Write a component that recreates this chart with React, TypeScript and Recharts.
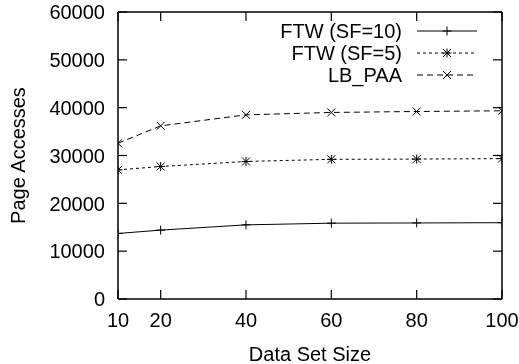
import React from "react";
import { LineChart, Line, XAxis, YAxis, Legend } from "recharts";

const xValues = [10, 20, 40, 60, 80, 100];
const ftw10 = [13700, 14400, 15500, 15850, 15900, 15950];
const ftw5 = [27000, 27700, 28750, 29200, 29250, 29350];
const lbPaa = [32550, 36200, 38500, 39000, 39200, 39350];
const xTicks = [10, 20, 40, 60, 80, 100];
const yTicks = [0, 10000, 20000, 30000, 40000, 50000, 60000];
const seriesNames = ["FTW (SF=10)", "FTW (SF=5)", "LB_PAA"];

const data = xValues.map((x, i) => ({ x, a: ftw10[i], b: ftw5[i], c: lbPaa[i] }));

const FONT = "'Liberation Sans', Arial, Helvetica, sans-serif";
const FS = 20;

const Plus = ({ cx, cy }: any) => (
  <g>
    <line x1={cx - 4.5} y1={cy} x2={cx + 4.5} y2={cy} stroke="#000" strokeWidth={1} />
    <line x1={cx} y1={cy - 4.5} x2={cx} y2={cy + 4.5} stroke="#000" strokeWidth={1} />
  </g>
);
const Cross = ({ cx, cy }: any) => (
  <g>
    <line x1={cx - 4} y1={cy - 4} x2={cx + 4} y2={cy + 4} stroke="#000" strokeWidth={1} />
    <line x1={cx - 4} y1={cy + 4} x2={cx + 4} y2={cy - 4} stroke="#000" strokeWidth={1} />
  </g>
);
const Star = ({ cx, cy }: any) => (
  <g>
    <Plus cx={cx} cy={cy} />
    <Cross cx={cx} cy={cy} />
  </g>
);

const markers = [Plus, Star, Cross];
const dashes = [undefined, "3 3", "6 4"];

const BottomTick = ({ x, y, payload }: any) => (
  <g>
    <line x1={x} y1={y} x2={x} y2={y - 9} stroke="#000" strokeWidth={1.2} />
    <text x={x} y={y + 28} textAnchor="middle" fontFamily={FONT} fontSize={FS} fill="#000">
      {payload.value}
    </text>
  </g>
);
const TopTick = ({ x, y }: any) => (
  <line x1={x} y1={y} x2={x} y2={y + 9} stroke="#000" strokeWidth={1.2} />
);
const LeftTick = ({ x, y, payload }: any) => (
  <g>
    <line x1={x} y1={y} x2={x + 9} y2={y} stroke="#000" strokeWidth={1.2} />
    <text x={x - 13} y={y} dy="0.36em" textAnchor="end" fontFamily={FONT} fontSize={FS} fill="#000">
      {payload.value}
    </text>
  </g>
);
const RightTick = ({ x, y }: any) => (
  <line x1={x} y1={y} x2={x - 9} y2={y} stroke="#000" strokeWidth={1.2} />
);

const XLabel = ({ viewBox }: any) => (
  <text
    x={viewBox.x + viewBox.width / 2}
    y={viewBox.y + 62}
    textAnchor="middle"
    fontFamily={FONT}
    fontSize={FS}
    fill="#000"
  >
    Data Set Size
  </text>
);
const YLabel = ({ viewBox }: any) => {
  const cx = 25;
  const cy = viewBox.y + viewBox.height / 2;
  return (
    <text
      x={cx}
      y={cy}
      transform={`rotate(-90 ${cx} ${cy})`}
      textAnchor="middle"
      fontFamily={FONT}
      fontSize={FS}
      fill="#000"
    >
      Page Accesses
    </text>
  );
};

const LegendContent = () => {
  const rows = [31, 53, 75];
  return (
    <svg width={519} height={100} style={{ display: "block" }}>
      {seriesNames.map((name, i) => {
        const M = markers[i];
        return (
          <g key={name}>
            <text
              x={402}
              y={rows[i]}
              dy="0.36em"
              textAnchor="end"
              fontFamily={FONT}
              fontSize={FS}
              fill="#000"
            >
              {name}
            </text>
            <line
              x1={417}
              y1={rows[i]}
              x2={477}
              y2={rows[i]}
              stroke="#000"
              strokeWidth={1}
              strokeDasharray={dashes[i]}
            />
            <M cx={447} cy={rows[i]} />
          </g>
        );
      })}
    </svg>
  );
};

export default function App() {
  const keys = ["a", "b", "c"];
  return (
    <div style={{ position: "fixed", left: 0, top: 0, width: 519, height: 364 }}>
      <LineChart
        width={519}
        height={364}
        data={data}
        margin={{ top: 11, right: 16, bottom: 0, left: 0 }}
      >
        <XAxis
          dataKey="x"
          type="number"
          domain={[10, 100]}
          ticks={xTicks}
          allowDataOverflow
          height={65}
          tickSize={0}
          tickMargin={0}
          tick={<BottomTick />}
          axisLine={{ stroke: "#000", strokeWidth: 1.5 }}
          label={<XLabel />}
        />
        <XAxis
          xAxisId="top"
          orientation="top"
          dataKey="x"
          type="number"
          domain={[10, 100]}
          ticks={xTicks}
          allowDataOverflow
          height={1}
          tickSize={0}
          tickMargin={0}
          tick={<TopTick />}
          axisLine={{ stroke: "#000", strokeWidth: 1.5 }}
        />
        <YAxis
          type="number"
          domain={[0, 60000]}
          ticks={yTicks}
          allowDataOverflow
          width={118}
          tickSize={0}
          tickMargin={0}
          tick={<LeftTick />}
          axisLine={{ stroke: "#000", strokeWidth: 1.5 }}
          label={<YLabel />}
        />
        <YAxis
          yAxisId="right"
          orientation="right"
          type="number"
          domain={[0, 60000]}
          ticks={yTicks}
          allowDataOverflow
          width={1}
          tickSize={0}
          tickMargin={0}
          tick={<RightTick />}
          axisLine={{ stroke: "#000", strokeWidth: 1.5 }}
        />
        <Legend
          layout="horizontal"
          verticalAlign="middle"
          align="center"
          content={<LegendContent />}
          wrapperStyle={{ top: 0, left: 0, width: 519, height: 100 }}
        />
        {keys.map((k, i) => {
          const M = markers[i];
          return (
            <Line
              key={k}
              dataKey={k}
              name={seriesNames[i]}
              type="linear"
              stroke="#000"
              strokeWidth={1}
              strokeDasharray={dashes[i]}
              dot={(p: any) => <M key={`${k}-${p.index}`} cx={p.cx} cy={p.cy} />}
              activeDot={false}
              isAnimationActive={false}
            />
          );
        })}
      </LineChart>
    </div>
  );
}
